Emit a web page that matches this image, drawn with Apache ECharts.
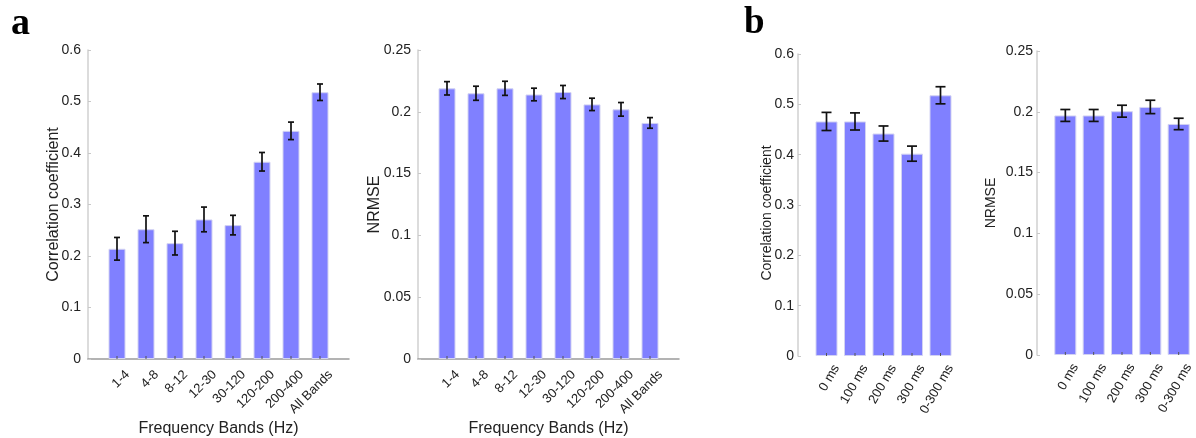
<!DOCTYPE html>
<html>
<head>
<meta charset="utf-8">
<style>
  html, body { margin: 0; padding: 0; background: #fff; }
  #chart { width: 1196px; height: 438px; }
</style>
<script src="https://cdn.jsdelivr.net/npm/echarts@6/dist/echarts.min.js"></script>
</head>
<body>
<div id="chart"></div>
<script>
// Decoding accuracy per frequency band (panel a) and per time lag (panel b)
const bandCats = ['1-4', '4-8', '8-12', '12-30', '30-120', '120-200', '200-400', 'All Bands'];
const bandCorr = [0.214, 0.252, 0.225, 0.271, 0.260, 0.383, 0.443, 0.518];
const bandCorrErr = [0.022, 0.026, 0.023, 0.024, 0.019, 0.018, 0.017, 0.016];
const bandNrmse = [0.219, 0.215, 0.219, 0.214, 0.216, 0.206, 0.202, 0.191];
const bandNrmseErr = [0.0054, 0.0057, 0.0057, 0.0051, 0.0053, 0.0050, 0.0055, 0.0043];

const lagCats = ['0 ms', '100 ms', '200 ms', '300 ms', '0-300 ms'];
const lagCorr = [0.466, 0.466, 0.442, 0.402, 0.518];
const lagCorrErr = [0.018, 0.017, 0.015, 0.015, 0.017];
const lagNrmse = [0.197, 0.197, 0.2005, 0.204, 0.190];
const lagNrmseErr = [0.0049, 0.0049, 0.0049, 0.0055, 0.0047];

const corrTicks = { min: 0, max: 0.6, interval: 0.1 };
const nrmseTicks = { min: 0, max: 0.25, interval: 0.05 };

const FONT = 'Liberation Sans, Arial, sans-serif';
const BAR_COLOR = '#8080ff';
const BAR_EDGE = '#d2d2f2';

const chart = echarts.init(document.getElementById('chart'), null, { renderer: 'canvas' });

// bars sit at positions 1..n on a value axis that starts at 0
function pairs(vals) { return vals.map((v, i) => [i + 1, v]); }
function triples(vals, errs) { return vals.map((v, i) => [i + 1, v, errs[i]]); }

// tilted category labels: an empty first line pushes the text below-right of its tick
function xAxisFor(idx, cats, maxX, showLine, rotate, margin, lineH, name) {
  return {
    gridIndex: idx, type: 'value', min: 0, max: maxX, interval: 1,
    name: name || '', nameLocation: 'middle', nameGap: 62, nameMoveOverlap: false,
    nameTextStyle: { fontFamily: FONT, fontSize: 16, color: '#222' },
    splitLine: { show: false },
    axisLine: { show: showLine, onZero: false, lineStyle: { color: '#9a9a9a', width: 1.5 } },
    axisTick: { show: false },
    axisLabel: {
      rotate: rotate, margin: margin, lineHeight: lineH,
      fontFamily: FONT, fontSize: 13, color: '#222',
      formatter: v => (cats[v - 1] ? '\n' + cats[v - 1] : ''),
      showMinLabel: false, showMaxLabel: false
    }
  };
}

function yAxisFor(idx, ticks, name, nameSize, nameGap, labelMargin, namePad) {
  return {
    gridIndex: idx, type: 'value', min: ticks.min, max: ticks.max, interval: ticks.interval,
    name: name, nameLocation: 'middle', nameGap: nameGap, nameRotate: 90, nameMoveOverlap: false,
    nameTextStyle: { fontFamily: FONT, fontSize: nameSize, color: '#222', padding: namePad || 0 },
    splitLine: { show: false },
    axisLine: { show: true, lineStyle: { color: '#d0d0d0', width: 1.5 } },
    axisTick: { show: true, inside: true, length: 3, lineStyle: { color: '#c8c8c8' } },
    axisLabel: { fontFamily: FONT, fontSize: 14, color: '#222', margin: labelMargin }
  };
}

function barSeries(idx, vals, width) {
  return {
    type: 'bar', xAxisIndex: idx, yAxisIndex: idx, data: pairs(vals),
    barWidth: width, silent: true, animation: false,
    itemStyle: { color: BAR_COLOR, borderColor: BAR_EDGE, borderWidth: 1 }
  };
}

function errSeries(idx, vals, errs, cap) {
  return {
    type: 'custom', xAxisIndex: idx, yAxisIndex: idx, data: triples(vals, errs),
    encode: { x: 0, y: 1 }, silent: true, animation: false, z: 5,
    renderItem: (params, api) => {
      const x = api.value(0), m = api.value(1), e = api.value(2);
      const hi = api.coord([x, m + e]);
      const lo = api.coord([x, m - e]);
      const st = { stroke: '#111', lineWidth: 1.7 };
      return {
        type: 'group',
        children: [
          { type: 'line', shape: { x1: hi[0], y1: hi[1], x2: lo[0], y2: lo[1] }, style: st },
          { type: 'line', shape: { x1: hi[0] - cap, y1: hi[1], x2: hi[0] + cap, y2: hi[1] }, style: st },
          { type: 'line', shape: { x1: lo[0] - cap, y1: lo[1], x2: lo[0] + cap, y2: lo[1] }, style: st }
        ]
      };
    }
  };
}

// small inward ticks at each bar position on the baseline
function baseTicks(idx, n, len) {
  return {
    type: 'custom', xAxisIndex: idx, yAxisIndex: idx,
    data: Array.from({ length: n }, (_, i) => [i + 1, 0]),
    encode: { x: 0, y: 1 }, silent: true, animation: false, z: 4,
    renderItem: (params, api) => {
      const p = api.coord([api.value(0), 0]);
      return { type: 'line', shape: { x1: p[0], y1: p[1], x2: p[0], y2: p[1] - len },
               style: { stroke: '#555', lineWidth: 1 } };
    }
  };
}

const option = {
  backgroundColor: '#fff',
  animation: false,
  grid: [
    { left: 88, top: 50, width: 261, height: 309, outerBoundsMode: 'none', containLabel: false },
    { left: 418, top: 50, width: 261, height: 309, outerBoundsMode: 'none', containLabel: false },
    { left: 798, top: 54, width: 171, height: 302, outerBoundsMode: 'none', containLabel: false },
    { left: 1037, top: 51, width: 170, height: 304, outerBoundsMode: 'none', containLabel: false }
  ],
  xAxis: [
    xAxisFor(0, bandCats, 9, true, 45, 3, 30, 'Frequency Bands (Hz)'),
    xAxisFor(1, bandCats, 9, true, 45, 3, 30, 'Frequency Bands (Hz)'),
    xAxisFor(2, lagCats, 6, false, 60, 4, 23),
    xAxisFor(3, lagCats, 6, false, 60, 4, 23)
  ],
  yAxis: [
    yAxisFor(0, corrTicks, 'Correlation coefficient', 16, 26, 7),
    yAxisFor(1, nrmseTicks, 'NRMSE', 16, 35, 7),
    yAxisFor(2, corrTicks, 'Correlation coefficient', 14, 24, 4, [0, 16, 0, 0]),
    yAxisFor(3, nrmseTicks, 'NRMSE', 14, 39, 4)
  ],
  series: [
    barSeries(0, bandCorr, 17),
    barSeries(1, bandNrmse, 17),
    barSeries(2, lagCorr, 22),
    barSeries(3, lagNrmse, 22),
    baseTicks(0, bandCats.length, 3),
    baseTicks(1, bandCats.length, 3),
    baseTicks(2, lagCats.length, 3),
    baseTicks(3, lagCats.length, 3),
    errSeries(0, bandCorr, bandCorrErr, 3),
    errSeries(1, bandNrmse, bandNrmseErr, 3),
    errSeries(2, lagCorr, lagCorrErr, 5),
    errSeries(3, lagNrmse, lagNrmseErr, 5)
  ],
  graphic: [
    { type: 'text', left: 11, top: 5,
      style: { text: 'a', font: 'bold 38px "Liberation Serif", "Times New Roman", serif', fill: '#000' } },
    { type: 'text', left: 744, top: 5,
      style: { text: 'b', font: 'bold 37px "Liberation Serif", "Times New Roman", serif', fill: '#000' } }
  ]
};

chart.setOption(option);
</script>
</body>
</html>
